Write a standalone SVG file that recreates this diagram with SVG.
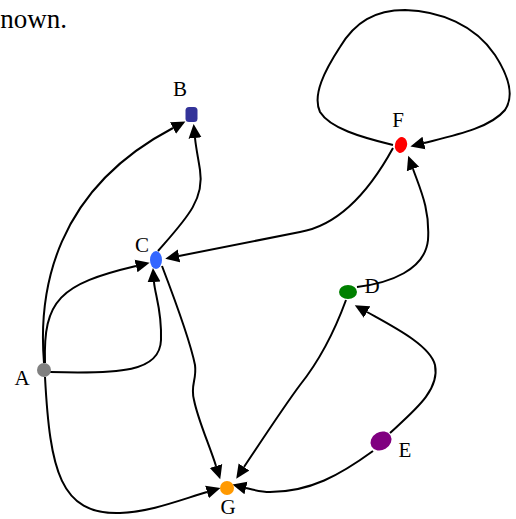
<svg xmlns="http://www.w3.org/2000/svg" width="516" height="519" viewBox="0 0 516 519">
  <style>
    .edge { fill: none; stroke: #000; stroke-width: 2; marker-end: url(#arrow); }
    .lbl { font-family: "Liberation Serif", "Times New Roman", serif; font-size: 21px; fill: #000; text-anchor: middle; }
    .caption { font-family: "Liberation Serif", "Times New Roman", serif; font-size: 27px; fill: #000; text-anchor: end; }
  </style>
  <defs>
    <marker id="arrow" markerUnits="userSpaceOnUse" markerWidth="15" markerHeight="14" viewBox="0 -7 15 14" refX="0" refY="0" orient="auto">
      <path d="M0,-6.5 L14,0 L0,6.5 z" fill="#000"/>
    </marker>
  </defs>
  <rect width="516" height="519" fill="#fff"/>

  <text class="caption" x="67" y="28">nown.</text>

  <g id="connectors">
    <!-- A -> B -->
    <path class="edge" d="M44,363 C38,290 55,190 173,128"/>
    <!-- A -> C (upper) -->
    <path class="edge" d="M45,363 C43,300 60,284 136,266"/>
    <!-- A -> C (around the right) -->
    <path class="edge" d="M50,372 C120,374 160,372 161,340 C162,310 155,295 154,282"/>
    <!-- A -> G -->
    <path class="edge" d="M45,377 C50,470 60,515 120,513 C150,512 180,500 207,492"/>
    <!-- C -> B -->
    <path class="edge" d="M158,251 C185,220 205,200 200,170 C198,157 196,148 195,138"/>
    <!-- F -> C -->
    <path class="edge" d="M393,148 C370,190 340,225 300,232 C260,240 220,248 179,256"/>
    <!-- C -> G -->
    <path class="edge" d="M162,266 C175,300 190,340 195,365 C197,380 190,385 194,400 C198,420 209,444 216,466"/>
    <!-- D -> G -->
    <path class="edge" d="M346,300 C335,330 320,360 300,385 C285,405 262,440 244,467"/>
    <!-- E -> G -->
    <path class="edge" d="M373,451 C340,475 310,492 270,492 C261,492 254,490 246,488"/>
    <!-- E -> D -->
    <path class="edge" d="M390,433 C415,410 440,390 435,365 C430,345 392,326 367,312"/>
    <!-- D -> F -->
    <path class="edge" d="M357,287 C390,283 425,270 428,240 C430,210 421,191 413,169"/>
    <!-- F -> F -->
    <path class="edge" d="M393,145 C360,137 330,128 320,112 C312,95 325,70 340,47 C355,22 375,10 405,10 C440,11 475,25 495,55 C508,75 515,95 505,110 C490,128 456,135 424,143"/>
  </g>

  <g id="A">
    <circle cx="44" cy="370" r="7" fill="#808080"/>
    <text class="lbl" x="22" y="385">A</text>
  </g>
  <g id="B">
    <rect x="185.5" y="107" width="12" height="15" rx="3.5" fill="#333399"/>
    <text class="lbl" x="180" y="96">B</text>
  </g>
  <g id="C">
    <ellipse cx="156" cy="260" rx="6" ry="9" fill="#3366ff"/>
    <text class="lbl" x="142" y="252">C</text>
  </g>
  <g id="D">
    <ellipse cx="348" cy="292" rx="9" ry="7" fill="#008000"/>
    <text class="lbl" x="372" y="293">D</text>
  </g>
  <g id="E">
    <ellipse cx="381" cy="441" rx="11" ry="9" transform="rotate(-30 381 441)" fill="#800080"/>
    <text class="lbl" x="405" y="457">E</text>
  </g>
  <g id="F">
    <ellipse cx="401" cy="145" rx="6" ry="8" transform="rotate(15 401 145)" fill="#ff0000"/>
    <text class="lbl" x="398" y="127">F</text>
  </g>
  <g id="G">
    <circle cx="227" cy="488" r="7" fill="#ff9900"/>
    <text class="lbl" x="228" y="514">G</text>
  </g>
</svg>
